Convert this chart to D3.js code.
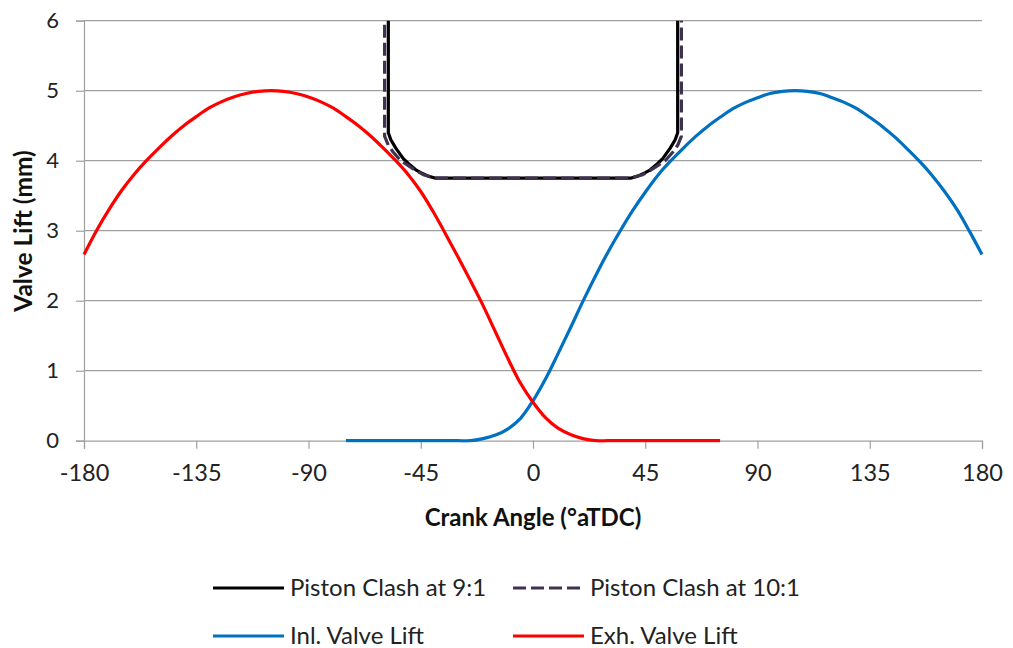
<!DOCTYPE html>
<html><head><meta charset="utf-8">
<script src="https://cdn.jsdelivr.net/npm/d3@7"></script>
<style>body{margin:0;background:#fff}svg{display:block}</style>
</head><body>
<svg id="c" width="1013" height="648"></svg>
<script>
// ---- data ----
const xTicks = [-180,-135,-90,-45,0,45,90,135,180];
const yTicks = [0,1,2,3,4,5,6];
const xTitle = "Crank Angle (°aTDC)";
const yTitle = "Valve Lift (mm)";

const exhAngle = [-180,-175,-170,-165,-160,-155,-150,-145,-140,-135,-130,-125,-120,-115,-110,-105,-100,-95,-90,-85,-80,-75,-70,-65,-60,-55,-50,-45,-40,-35,-30,-25,-20,-15,-10,-5,0,5,10,15,20,25,30,35,40,45,50,55,60,65,70,75];
const exhLift  = [2.66,3.0,3.3,3.57,3.8,4.0,4.18,4.35,4.5,4.63,4.75,4.84,4.91,4.96,4.99,5.0,4.99,4.96,4.91,4.84,4.75,4.63,4.5,4.35,4.18,4.0,3.8,3.56,3.27,2.95,2.62,2.28,1.93,1.55,1.17,0.82,0.55,0.33,0.18,0.09,0.03,0,0,0,0,0,0,0,0,0,0,0];

const inlAngle = [-75,-70,-65,-60,-55,-50,-45,-40,-35,-30,-25,-20,-15,-10,-5,0,5,10,15,20,25,30,35,40,45,50,55,60,65,70,75,80,85,90,95,100,105,110,115,120,125,130,135,140,145,150,155,160,165,170,175,180];
const inlLift  = [0,0,0,0,0,0,0,0,0,0,0,0.03,0.08,0.17,0.32,0.57,0.88,1.24,1.61,1.99,2.35,2.69,3.0,3.29,3.55,3.79,3.99,4.17,4.34,4.49,4.62,4.74,4.83,4.9,4.96,4.99,5.0,4.99,4.96,4.9,4.83,4.74,4.62,4.49,4.34,4.17,3.99,3.79,3.56,3.3,2.99,2.66];

const clash9Angle = [-58,-58,-57,-55,-52,-50,-47,-45,-42,-39,39,42,45,47,50,52,55,57,58,58];
const clash9Lift  = [8,4.4,4.3,4.18,4.03,3.96,3.87,3.83,3.78,3.75,3.75,3.78,3.83,3.87,3.96,4.03,4.18,4.3,4.4,8];

const clash10Angle = [-59.5,-59.5,-58,-56,-53,-50,-47,-44,-41,-39,39,41,44,47,50,53,56,58,59.5,59.5];
const clash10Lift  = [8,4.35,4.22,4.12,4.0,3.93,3.86,3.8,3.77,3.75,3.75,3.77,3.8,3.86,3.93,4.0,4.12,4.22,4.35,8];

const seriesNames = ["Piston Clash at 9:1","Piston Clash at 10:1","Inl. Valve Lift","Exh. Valve Lift"];

// ---- chart ----
const svg = d3.select("#c");
const font = "Lato, 'Liberation Sans', sans-serif";
const L = 84, R = 982, T = 20.7, B = 440.7;
const x = d3.scaleLinear().domain([-180,180]).range([L,R]);
const y = d3.scaleLinear().domain([0,6]).range([B,T]);

svg.append("defs").append("clipPath").attr("id","plot")
  .append("rect").attr("x",L-2).attr("y",T).attr("width",R-L+4).attr("height",B-T+2);

// gridlines
svg.append("g").selectAll("line").data(yTicks.filter(d=>d>0)).join("line")
  .attr("x1",L).attr("x2",R).attr("y1",d=>y(d)).attr("y2",d=>y(d))
  .attr("stroke","#a0a0a0").attr("stroke-width",1.2);

// y axis
const ya = svg.append("g").attr("transform",`translate(${L},0)`)
  .call(d3.axisLeft(y).tickValues(yTicks).tickSize(8).tickPadding(17).tickFormat(d=>String(d)));
ya.select(".domain").attr("stroke","#a0a0a0").attr("stroke-width",1.2);
ya.selectAll(".tick line").attr("stroke","#a0a0a0").attr("stroke-width",1.2);
ya.selectAll("text").attr("font-family",font).attr("font-size",22).attr("fill","#222");

// x axis
const xa = svg.append("g").attr("transform",`translate(0,${B})`)
  .call(d3.axisBottom(x).tickValues(xTicks).tickSize(8).tickPadding(16).tickFormat(d=>String(d)));
xa.select(".domain").attr("stroke","#a0a0a0").attr("stroke-width",1.2);
xa.selectAll(".tick line").attr("stroke","#a0a0a0").attr("stroke-width",1.2);
xa.selectAll("text").attr("font-family",font).attr("font-size",23.5).attr("fill","#222");

// titles
svg.append("text").attr("x",(L+R)/2).attr("y",518).attr("dy","0.35em").attr("text-anchor","middle")
  .attr("font-family",font).attr("font-weight","bold").attr("font-size",24).attr("fill","#111").text(xTitle);
svg.append("text").attr("transform","translate(23,231) rotate(-90)").attr("dy","0.35em").attr("text-anchor","middle")
  .attr("font-family",font).attr("font-weight","bold").attr("font-size",24.5).attr("fill","#111").text(yTitle);

// series
const g = svg.append("g").attr("clip-path","url(#plot)");
const smooth = d3.line().x(d=>x(d[0])).y(d=>y(d[1])).curve(d3.curveCatmullRom.alpha(0.5));
const straight = d3.line().x(d=>x(d[0])).y(d=>y(d[1])).curve(d3.curveLinear);
const zip = (a,b)=>a.map((v,i)=>[v,b[i]]);

const styles = [
  {color:"#000000", dash:null},
  {color:"#403152", dash:"13,5"},
  {color:"#0070C0", dash:null},
  {color:"#FF0000", dash:null}
];

g.append("path").attr("d",smooth(zip(inlAngle,inlLift))).attr("fill","none").attr("stroke",styles[2].color).attr("stroke-width",3.2);
g.append("path").attr("d",smooth(zip(exhAngle,exhLift))).attr("fill","none").attr("stroke",styles[3].color).attr("stroke-width",3.2);
g.append("path").attr("d",straight(zip(clash9Angle,clash9Lift))).attr("fill","none").attr("stroke",styles[0].color).attr("stroke-width",3.2).attr("stroke-linejoin","round");
g.append("path").attr("d",straight(zip(clash10Angle,clash10Lift))).attr("fill","none").attr("stroke",styles[1].color).attr("stroke-width",3.2).attr("stroke-dasharray",styles[1].dash).attr("stroke-linejoin","round");

// legend
const legPos = [[213,588],[513,588],[213,636],[513,636]];
seriesNames.forEach((n,i)=>{
  const [lx,ly] = legPos[i];
  svg.append("line").attr("x1",lx).attr("x2",lx+71).attr("y1",ly).attr("y2",ly)
    .attr("stroke",styles[i].color).attr("stroke-width",3.2)
    .attr("stroke-dasharray",styles[i].dash);
  svg.append("text").attr("x",lx+77).attr("y",ly).attr("dy","0.35em")
    .attr("font-family",font).attr("font-size",24).attr("fill","#222").text(n);
});
</script>
</body></html>
